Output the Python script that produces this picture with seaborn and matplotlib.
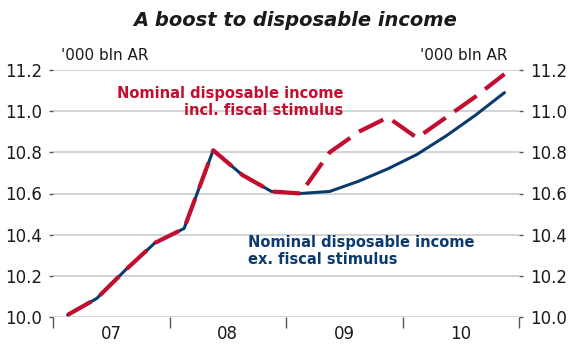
import matplotlib
matplotlib.use("Agg")
import matplotlib.pyplot as plt
import seaborn as sns
import pandas as pd
import numpy as np

# Quarterly nominal disposable income, '000 bln, annualised rate
years = [2007, 2008, 2009, 2010]
quarters = [f"{y}Q{q}" for y in years for q in range(1, 5)]
ex_stimulus = [10.01, 10.09, 10.23, 10.36, 10.43, 10.81, 10.69, 10.61,
               10.60, 10.61, 10.66, 10.72, 10.79, 10.88, 10.98, 11.09]
incl_stimulus = [10.01, 10.09, 10.23, 10.36, 10.43, 10.81, 10.69, 10.61,
                 10.60, 10.80, 10.90, 10.97, 10.87, 10.97, 11.07, 11.18]
year_labels = ["07", "08", "09", "10"]
y_ticks = [10.0, 10.2, 10.4, 10.6, 10.8, 11.0, 11.2]

RED = "#c20f2f"
BLUE = "#0b3a6c"
GRID = "#cdd1d1"
TEXT = "#1a1a1a"

# place each quarter at the middle of its span on a decimal-year axis
t = [int(q[:4]) + (int(q[-1]) - 0.5) / 4 for q in quarters]
df = pd.DataFrame({"t": t, "ex": ex_stimulus, "incl": incl_stimulus})

sns.set_theme(style="white")
plt.rcParams["font.family"] = ["DejaVu Sans"]

fig = plt.figure(figsize=(5.68, 3.49), dpi=100)
ax = fig.add_axes([53 / 568, 1 - 317 / 349, 466 / 568, 247 / 349])

ax.set_xlim(years[0], years[-1] + 1)
ax.set_ylim(y_ticks[0], y_ticks[-1])

for v in y_ticks:
    ax.axhline(v, color=GRID, lw=1.3, zorder=0)

sns.lineplot(data=df, x="t", y="ex", ax=ax, color=BLUE, lw=2.2, zorder=2)
sns.lineplot(data=df, x="t", y="incl", ax=ax, color=RED, lw=3.0, zorder=3,
             dashes=False)
ax.lines[-1].set_dashes((6.5, 2.6))
ax.lines[-1].set_solid_capstyle("butt")
ax.lines[-1].set_dash_capstyle("butt")

for s in ax.spines.values():
    s.set_visible(False)

ax.set_xlabel("")
ax.set_ylabel("")

# y axis labelled on both sides
ax.set_yticks(y_ticks)
ax.set_yticklabels([f"{v:.1f}" for v in y_ticks])
ax.tick_params(axis="y", which="both", left=True, right=True,
               labelleft=True, labelright=True, direction="out",
               length=3, width=1, color="#555555", pad=5,
               labelsize=12, labelcolor=TEXT)

# x axis: year boundaries as ticks, year names centred between them
ax.set_xticks([years[0] + i for i in range(len(years) + 1)])
ax.set_xticklabels([""] * (len(years) + 1))
ax.set_xticks([y + 0.5 for y in years], minor=True)
ax.set_xticklabels(year_labels, minor=True)
ax.tick_params(axis="x", which="major", bottom=True, direction="out",
               length=8, width=1, color="#555555")
ax.tick_params(axis="x", which="minor", bottom=False, length=0, pad=6,
               labelsize=12, labelcolor=TEXT)

ax.text(2009.49, 11.045, "Nominal disposable income\nincl. fiscal stimulus",
        color=RED, fontsize=10.5, fontweight="bold", ha="right", va="center",
        multialignment="right", linespacing=1.15)
ax.text(2008.67, 10.32, "Nominal disposable income\nex. fiscal stimulus",
        color=BLUE, fontsize=10.5, fontweight="bold", ha="left", va="center",
        multialignment="left", linespacing=1.15)

fig.text(295 / 568, 1 - 20 / 349, "A boost to disposable income",
         fontsize=14, fontweight="bold", fontstyle="italic", color=TEXT,
         ha="center", va="center")
fig.text(61 / 568, 1 - 55 / 349, "'000 bln AR", fontsize=11, color=TEXT,
         ha="left", va="center")
fig.text(507 / 568, 1 - 55 / 349, "'000 bln AR", fontsize=11, color=TEXT,
         ha="right", va="center")

fig.savefig("out.png", dpi=100, facecolor="white")
